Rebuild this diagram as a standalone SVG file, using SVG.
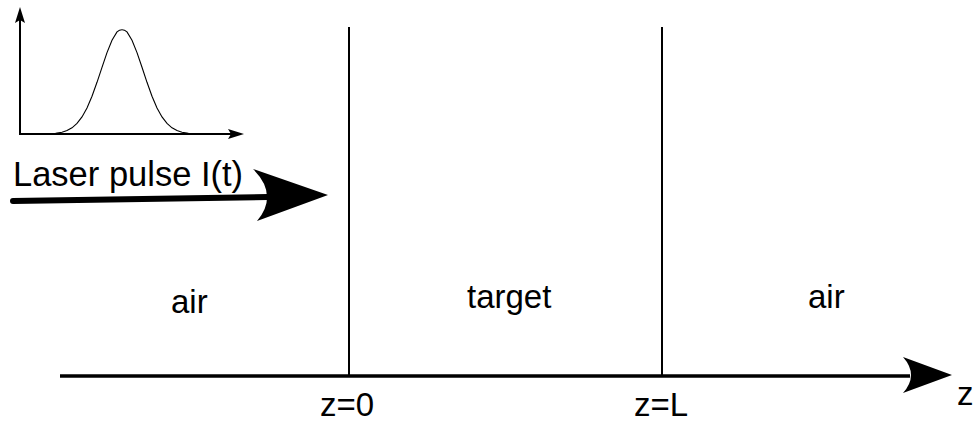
<svg xmlns="http://www.w3.org/2000/svg" width="975" height="423" viewBox="0 0 975 423">
  <style>
    .lbl { font-family: "Liberation Sans", Arial, sans-serif; font-size: 33px; fill: #000; }
    .ln { stroke: #000; fill: none; }
    .head { fill: #000; stroke: none; }
  </style>
  <rect width="975" height="423" fill="#fff"/>

  <!-- inset: pulse intensity profile -->
  <g id="pulse-plot">
    <line class="ln" x1="20" y1="134" x2="20" y2="18" stroke-width="2"/>
    <path class="head" d="M20,7 L25,23 L20,20 L15,23 Z"/>
    <line class="ln" x1="19" y1="134" x2="232" y2="134" stroke-width="2"/>
    <path class="head" d="M244,134 L228,139 L231,134 L228,129 Z"/>
    <path class="ln" stroke-width="1.1" d="M20,134 L52,134 C55,134 56,133.3 57,133.1 L62,132.2 L67,130.6 L72,127.8 L77,123.4 L82,116.9 L87,107.9 L92,96.2 L97,82.3 L102,67.3 L107,52.6 L112,40.2 L117,31.9 Q122,27.5 127,31.9 L132,40.2 L137,52.6 L142,67.3 L147,82.3 L152,96.2 L157,107.9 L162,116.9 L167,123.4 L172,127.8 L177,130.6 L182,132.2 L187,133.1 C188,133.3 189,134 192,134"/>
  </g>

  <!-- boundaries -->
  <g id="boundary-front">
    <line class="ln" x1="349" y1="27" x2="349" y2="376" stroke-width="2"/>
  </g>
  <g id="boundary-back">
    <line class="ln" x1="662" y1="27" x2="662" y2="376" stroke-width="2"/>
  </g>

  <!-- region labels -->
  <g id="region-air-left"><text class="lbl" x="171" y="313">air</text></g>
  <g id="region-target"><text class="lbl" x="467" y="308">target</text></g>
  <g id="region-air-right"><text class="lbl" x="808" y="308">air</text></g>

  <g id="laser-label"><text class="lbl" x="13" y="186" style="font-size:34.5px">Laser pulse I(t)</text></g>

  <g id="connectors">
    <!-- incoming laser pulse -->
    <line class="ln" x1="13" y1="201" x2="268" y2="197" stroke-width="6" stroke-linecap="round"/>
    <path class="head" d="M328,195 L253,169 Q279,195 257,221 Z"/>
    <!-- z axis -->
    <line class="ln" x1="60" y1="376" x2="910" y2="376" stroke-width="3.5"/>
    <path class="head" d="M952,375 L903,357 Q919,375 903,393 Z"/>
  </g>

  <g id="axis-labels">
    <text class="lbl" x="320" y="416">z=0</text>
    <text class="lbl" x="634" y="416">z=L</text>
    <text class="lbl" x="957" y="405">z</text>
  </g>
</svg>
